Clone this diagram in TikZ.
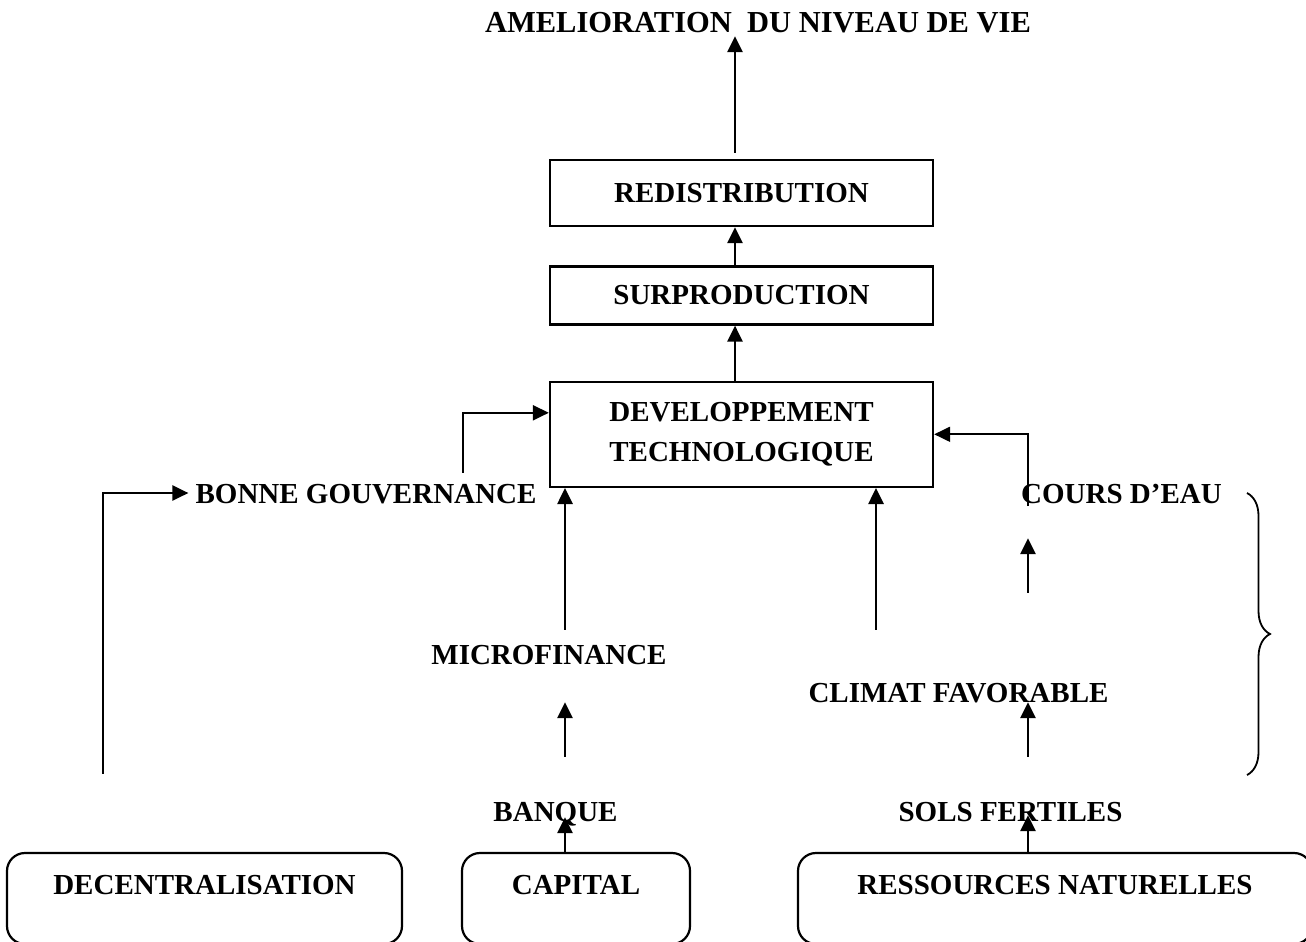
\documentclass[tikz,border=0pt]{standalone}
\usepackage{fontspec}
\setmainfont{Liberation Serif}
\usetikzlibrary{arrows.meta,positioning,decorations.pathreplacing}

\begin{document}
\begin{tikzpicture}[
    x=1pt, y=-1pt,
    every node/.style = {font=\fontsize{29}{40}\selectfont\bfseries},
    box/.style = {
        rectangle,
        draw,
        line width=2.4pt,
        align=center,
        minimum width=383pt,
        inner sep=0pt
    },
    base/.style = {
        rectangle,
        rounded corners=18pt,
        draw,
        line width=2.2pt,
        inner sep=0pt,
        text height=41.6pt,
        text depth=49.4pt
    },
    lbl/.style = {inner sep=0pt, text height=20pt, text depth=0pt},
    arrow/.style = {
        -{Triangle[length=16pt,width=15pt]},
        line width=2.6pt
    }
]
\useasboundingbox (0,0) rectangle (1306,942);

% column positions of the vertical connectors
\coordinate (spine) at (735,0);
\coordinate (colA) at (565,0);
\coordinate (colB) at (1028,0);
\coordinate (colC) at (876,0);
\coordinate (colG) at (463,0);
\coordinate (colL) at (103,0);

\node[lbl, font=\fontsize{30.5}{40}\selectfont\bfseries] (title) at (758,23) {AMELIORATION\ \ DU NIVEAU DE VIE};

\node[box, minimum height=66pt] (redis) at (741.5,193) {REDISTRIBUTION};
\node[box, minimum height=58pt, below=38pt of redis] (surp) {SURPRODUCTION};
\node[box, minimum height=105pt, below=55pt of surp] (dev) {DEVELOPPEMENT\\TECHNOLOGIQUE};

\node[lbl] (bonne) at (366,493) {BONNE GOUVERNANCE};
\node[lbl, anchor=west] (cours) at (1021,493) {COURS D’EAU};
\node[lbl] (micro) at (549,654) {MICROFINANCE};
\node[lbl] (climat) at (958.5,692) {CLIMAT FAVORABLE};
\node[lbl] (banque) at (555.5,811) {BANQUE};
\node[lbl] (sols) at (1010.5,811) {SOLS FERTILES};

\node[base, minimum width=395pt] (dec) at (204.5,898.5) {DECENTRALISATION};
\node[base, minimum width=228pt] (capital) at (576,898.5) {CAPITAL};
\node[base, minimum width=514pt] (res) at (1055,898.5) {RESSOURCES NATURELLES};

% main column
\draw[arrow] (dev.north -| spine) -- (surp.south -| spine);
\draw[arrow] (surp.north -| spine) -- (redis.south -| spine);
\draw[arrow, shorten <=6pt, shorten >=3pt] (redis.north -| spine) -- (title.south -| spine);

% inputs to the development box
\draw[arrow, shorten <=10pt] (bonne.north -| colG) |- ([yshift=21.5pt]dev.west);
\draw[arrow, line width=2pt, shorten <=-3pt] (cours.south -| colB) |- (dev.east);
\draw[arrow, shorten <=14pt] (micro.north -| colA) -- (dev.south -| colA);
\draw[arrow, shorten <=52pt] (climat.north -| colC) -- (dev.south -| colC);

% lower chains
\draw[arrow, shorten <=78pt, shorten >=7pt] (dec.north -| colL) |- (bonne.west);
\draw[arrow, shorten >=-4pt] (capital.north -| colA) -- (banque.south -| colA);
\draw[arrow, shorten <=44pt, shorten >=38pt] (banque.north -| colA) -- (micro.south -| colA);
\draw[arrow, shorten >=-6pt] (res.north -| colB) -- (sols.south -| colB);
\draw[arrow, shorten <=44pt] (sols.north -| colB) -- (climat.south -| colB);
\draw[arrow, shorten <=89pt, shorten >=35pt] (climat.north -| colB) -- (cours.south -| colB);

% brace grouping the natural resources
\coordinate (brtop) at (1247,493);
\coordinate (brbot) at (1247,775);
\draw[line width=1.8pt, decorate, decoration={brace, amplitude=23pt}] (brtop) -- (brbot);

\end{tikzpicture}
\end{document}
